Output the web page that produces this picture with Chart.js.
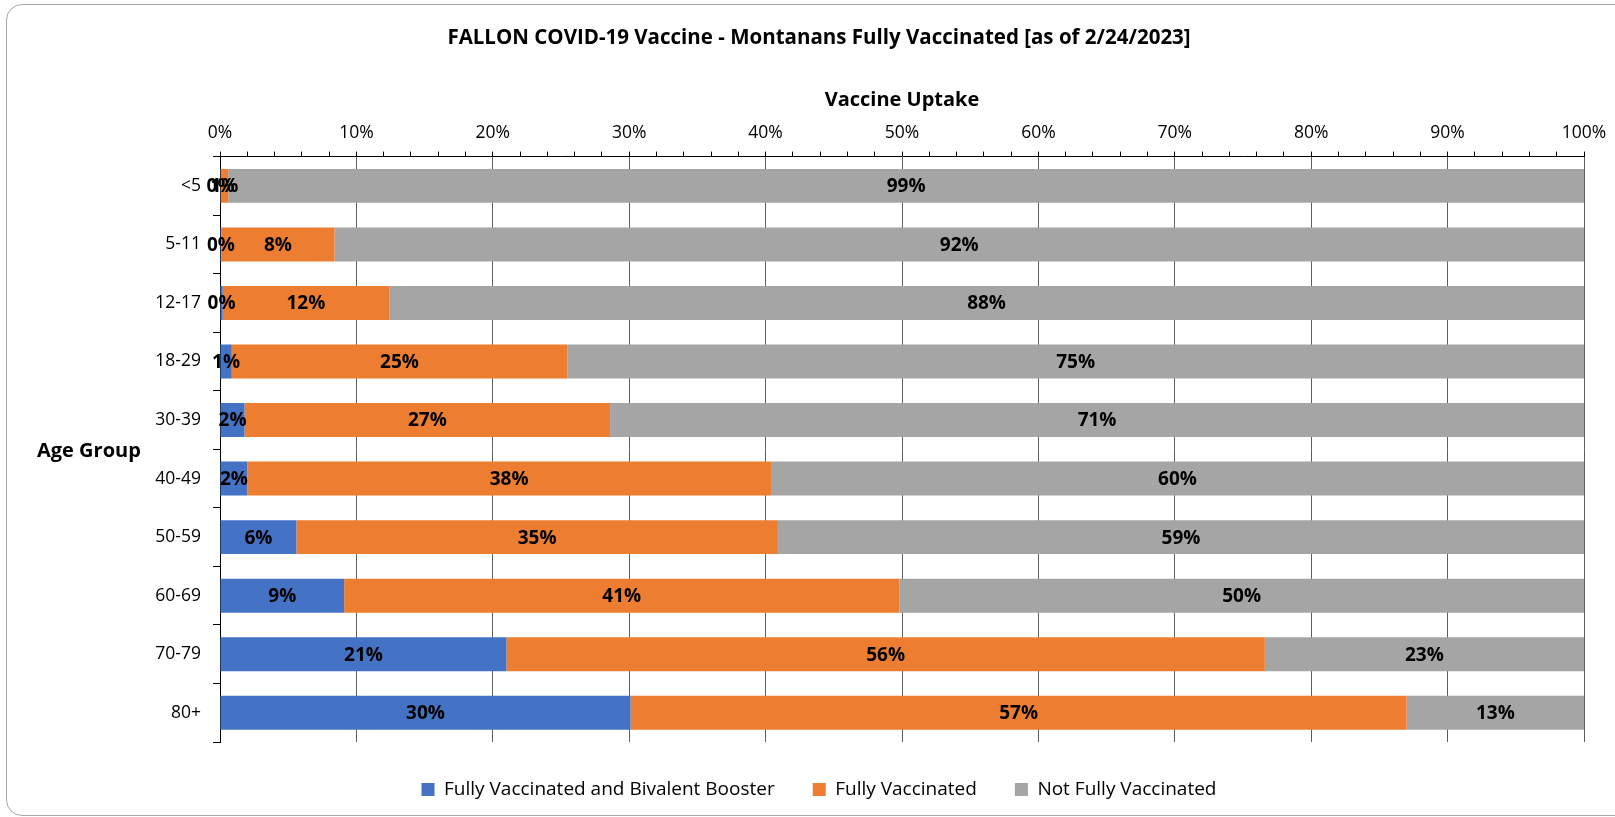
<!DOCTYPE html>
<html>
<head>
<meta charset="utf-8">
<title>FALLON COVID-19 Vaccine</title>
<script src="https://cdn.jsdelivr.net/npm/chart.js@4.4.1/dist/chart.umd.min.js"></script>
<style>
  html, body { margin: 0; padding: 0; background: #fff; overflow: hidden; }
  #wrap { position: relative; width: 1615px; height: 817px; }
  #frame {
    position: absolute; left: 6px; top: 4px; width: 1700px; height: 810px;
    border: 1.5px solid #a6a6a6; border-radius: 16px; pointer-events: none;
  }
  canvas { position: absolute; left: 0; top: 0; }
</style>
</head>
<body>
<div id="wrap">
  <canvas id="vaxChart" width="1615" height="817"></canvas>
  <div id="frame"></div>
</div>
<script>
// age groups and shares of population (%)
const ageGroups = ['<5', '5-11', '12-17', '18-29', '30-39', '40-49', '50-59', '60-69', '70-79', '80+'];
const bivalentBooster = [0.05, 0.1, 0.2, 0.86, 1.8, 2.0, 5.6, 9.1, 21.0, 30.1];
const fullyVaccinated = [0.55, 8.3, 12.2, 24.6, 26.8, 38.4, 35.3, 40.7, 55.6, 56.9];
const notFullyVaccinated = [99.4, 91.6, 87.6, 74.54, 71.4, 59.6, 59.1, 50.2, 23.4, 13.0];

const FONT = '"Open Sans", Calibri, sans-serif';
Chart.defaults.font.family = FONT;
Chart.defaults.color = '#000';

// percentage labels in the middle of every segment
const segmentLabels = {
  id: 'segmentLabels',
  afterDatasetsDraw(chart) {
    const ctx = chart.ctx;
    ctx.save();
    ctx.font = 'bold 19px ' + FONT;
    ctx.fillStyle = '#000';
    ctx.textAlign = 'center';
    ctx.textBaseline = 'middle';
    chart.data.datasets.forEach((ds, i) => {
      chart.getDatasetMeta(i).data.forEach((bar, j) => {
        const p = bar.getProps(['x', 'y', 'base'], true);
        ctx.fillText(Math.round(ds.data[j]) + '%', (p.x + p.base) / 2, p.y + 1);
      });
    });
    ctx.restore();
  }
};

// horizontal "Age Group" axis title, left of the category labels
const ageTitle = {
  id: 'ageTitle',
  afterDraw(chart) {
    const ctx = chart.ctx;
    const area = chart.chartArea;
    ctx.save();
    ctx.font = 'bold 20px ' + FONT;
    ctx.fillStyle = '#000';
    ctx.textAlign = 'left';
    ctx.textBaseline = 'middle';
    ctx.fillText('Age Group', 37, (area.top + area.bottom) / 2 + 2);
    ctx.restore();
  }
};

new Chart(document.getElementById('vaxChart'), {
  type: 'bar',
  data: {
    labels: ageGroups,
    datasets: [{
      label: 'Fully Vaccinated and Bivalent Booster',
      data: bivalentBooster,
      backgroundColor: '#4472C4'
    }, {
      label: 'Fully Vaccinated',
      data: fullyVaccinated,
      backgroundColor: '#ED7D31'
    }, {
      label: 'Not Fully Vaccinated',
      data: notFullyVaccinated,
      backgroundColor: '#A5A5A5'
    }]
  },
  options: {
    indexAxis: 'y',
    responsive: false,
    animation: false,
    devicePixelRatio: 1,
    categoryPercentage: 1,
    barPercentage: 0.58,
    layout: { padding: { left: 54, right: 31, top: 0, bottom: 8 } },
    plugins: {
      title: {
        display: true,
        text: 'FALLON COVID-19 Vaccine - Montanans Fully Vaccinated [as of 2/24/2023]',
        font: { size: 20.5, weight: 'bold' },
        color: '#000',
        padding: { top: 26, bottom: 10 }
      },
      legend: {
        position: 'bottom',
        labels: {
          boxWidth: 13,
          boxHeight: 13,
          padding: 38,
          font: { size: 19 },
          color: '#000'
        }
      },
      tooltip: { enabled: false }
    },
    scales: {
      x: {
        position: 'top',
        stacked: true,
        min: 0,
        max: 100,
        afterFit: (scale) => { scale.height = 96; },
        ticks: {
          stepSize: 2,
          autoSkip: false,
          maxRotation: 0,
          padding: 8,
          font: { size: 17.5 },
          color: '#000',
          callback: (v) => (v % 10 === 0 ? v + '%' : '')
        },
        grid: {
          color: (c) => (c.tick && c.tick.value % 10 === 0 ? '#5f5f5f' : 'rgba(0,0,0,0)'),
          tickColor: '#000',
          tickLength: 5,
          lineWidth: 1
        },
        border: { color: '#000', width: 1 },
        title: {
          display: true,
          text: 'Vaccine Uptake',
          font: { size: 20, weight: 'bold' },
          color: '#000',
          padding: { top: 28, bottom: 0 }
        }
      },
      y: {
        stacked: true,
        afterFit: (scale) => { scale.width = 166; },
        ticks: {
          padding: 12,
          font: { size: 17.5 },
          color: '#000'
        },
        grid: {
          drawOnChartArea: false,
          offset: true,
          tickLength: 7,
          color: '#000'
        },
        border: { color: '#000', width: 1 }
      }
    }
  },
  plugins: [segmentLabels, ageTitle]
});
</script>
</body>
</html>
